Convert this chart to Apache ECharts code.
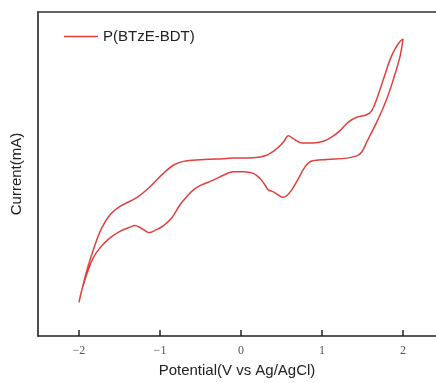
<!DOCTYPE html>
<html>
<head>
<meta charset="utf-8">
<script src="https://cdn.jsdelivr.net/npm/echarts@6/dist/echarts.min.js"></script>
<style>html,body{margin:0;padding:0;background:#fff}#c{width:436px;height:383px}</style>
</head>
<body>
<div id="c"></div>
<script>
// Forward (anodic) scan, -2 V -> 2 V
const forwardX = [-2.0,-1.905,-1.802,-1.720,-1.617,-1.494,-1.288,-1.144,-0.959,-0.835,-0.712,-0.506,-0.300,-0.095,0.152,0.317,0.440,0.523,0.584,0.646,0.749,0.893,1.016,1.119,1.222,1.325,1.428,1.551,1.613,1.675,1.757,1.840,1.901,1.963,2.0];
const forwardY = [10.4,20.1,28.2,33.3,37.4,40.0,42.7,45.6,50.2,52.7,53.9,54.4,54.6,54.9,55.0,55.8,57.8,59.8,61.8,60.9,59.6,59.6,60.1,61.4,63.4,66.0,67.5,68.3,69.5,73.1,79.2,85.3,88.6,90.9,91.6];
// Reverse (cathodic) scan, 2 V -> -2 V
const reverseX = [1.963,1.881,1.798,1.675,1.551,1.490,1.428,1.305,1.058,0.872,0.790,0.708,0.626,0.564,0.514,0.461,0.399,0.337,0.296,0.235,0.152,0.029,-0.095,-0.218,-0.342,-0.506,-0.588,-0.671,-0.753,-0.856,-0.959,-1.062,-1.136,-1.185,-1.247,-1.309,-1.370,-1.494,-1.617,-1.741,-1.823,-1.897,-1.967,-2.0];
const reverseY = [86.3,79.2,73.1,66.0,59.8,56.8,55.6,54.9,54.5,54.0,52.2,48.6,45.1,43.3,42.8,43.5,44.5,45.1,46.6,48.6,50.2,50.7,50.7,49.6,48.1,46.4,45.1,43.0,40.5,36.4,34.0,32.6,31.9,32.5,33.5,34.1,33.6,32.3,30.3,27.2,24.2,19.6,14.0,10.4];
const xTicks = [-2,-1,0,1,2];
const xMin = -2.506, xMax = 2.407;
const seriesName = 'P(BTzE-BDT)';

const data = [];
forwardX.forEach((x,i)=>data.push([x, forwardY[i]]));
reverseX.forEach((x,i)=>data.push([x, reverseY[i]]));

const chart = echarts.init(document.getElementById('c'));
chart.setOption({
  animation: false,
  grid: {left: 38, top: 12, right: 0, bottom: 44, show: false},
  legend: {
    left: 59, top: 24, itemWidth: 34, itemHeight: 14, itemGap: 9,
    textStyle: {fontFamily: 'Liberation Sans', fontSize: 15, color: '#222'},
    data: [{name: seriesName, icon: 'path://M0,0 L34,0 L34,1.6 L0,1.6 Z'}]
  },
  xAxis: [{
    type: 'value', min: xMin, max: xMax, position: 'bottom',
    name: 'Potential(V vs Ag/AgCl)', nameLocation: 'middle', nameGap: 27,
    nameTextStyle: {fontFamily: 'Liberation Sans', fontSize: 15, color: '#222'},
    axisLine: {show: true, onZero: false, lineStyle: {color: '#222', width: 1.6}},
    axisTick: {show: true, inside: true, length: 6, lineStyle: {color: '#222', width: 1.5}, customValues: xTicks},
    axisLabel: {show: true, fontFamily: 'Liberation Serif', fontSize: 12, color: '#555', margin: 9, customValues: xTicks,
      formatter: v => String(v).replace('-', '\u2212')},
    splitLine: {show: false}
  }, {
    type: 'value', min: xMin, max: xMax, position: 'top',
    axisLine: {show: true, onZero: false, lineStyle: {color: '#333', width: 1.5}},
    axisTick: {show: false}, axisLabel: {show: false}, splitLine: {show: false}
  }],
  yAxis: {
    type: 'value', min: 0, max: 100,
    name: 'Current(mA)', nameLocation: 'middle', nameGap: 14,
    nameTextStyle: {fontFamily: 'Liberation Sans', fontSize: 15, color: '#222'},
    axisLine: {show: true, onZero: false, lineStyle: {color: '#222', width: 1.6}},
    axisTick: {show: false}, axisLabel: {show: false}, splitLine: {show: false}
  },
  series: [{
    name: seriesName, type: 'line', data: data, smooth: 0.35, symbol: 'none',
    lineStyle: {color: '#e0413f', width: 1.5}, itemStyle: {color: '#e0413f'}
  }]
});
</script>
</body>
</html>
